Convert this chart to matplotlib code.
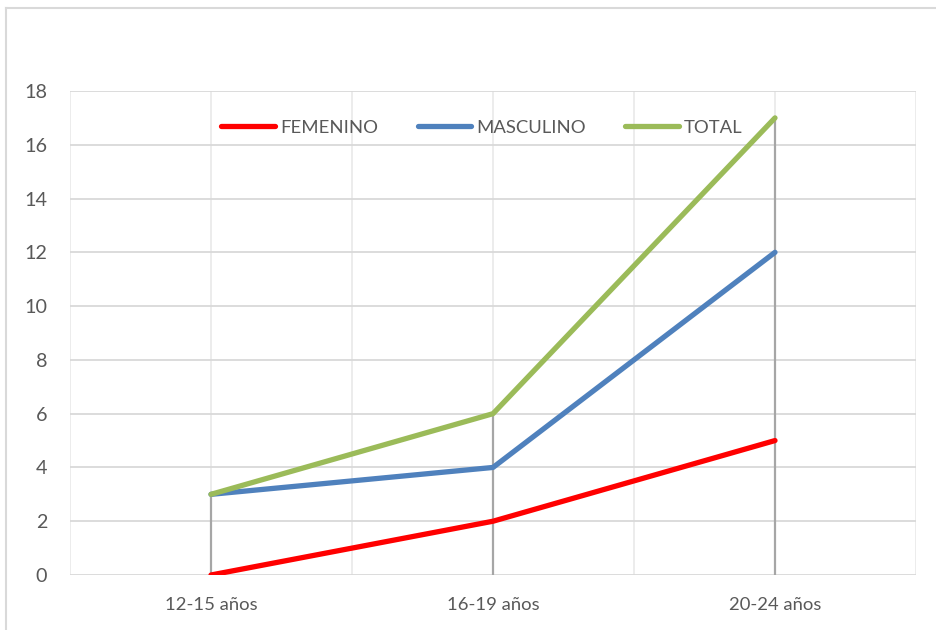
import matplotlib
matplotlib.use("Agg")
import matplotlib.pyplot as plt
from matplotlib.lines import Line2D

categories = ["12-15 años", "16-19 años", "20-24 años"]
femenino = [0, 2, 5]
masculino = [3, 4, 12]
total = [3, 6, 17]
yticks = [0, 2, 4, 6, 8, 10, 12, 14, 16, 18]

plt.rcParams['font.family'] = ['Lato', 'DejaVu Sans']

fig = plt.figure(figsize=(9.36, 6.3), dpi=100)
ax = fig.add_axes([70/936, 1 - 575/630, (916-70)/936, (575-91)/630])

x = [i + 0.5 for i in range(len(categories))]

# gridlines
for yv in yticks:
    ax.axhline(yv, color='#D9D9D9', lw=1.3, zorder=1)
for xv in [0, 0.5, 1, 1.5, 2, 2.5, 3]:
    ax.axvline(xv, color='#EBEBEB', lw=1.3, zorder=0.5)

# drop lines
for xi, a, b, c in zip(x, femenino, masculino, total):
    top = max(a, b, c)
    ax.plot([xi, xi], [0, top], color='#A6A6A6', lw=1.6, zorder=2)

ax.plot(x, femenino, color='#FF0000', lw=3.8, solid_capstyle='round', zorder=3, label='FEMENINO')
ax.plot(x, masculino, color='#4F81BD', lw=3.8, solid_capstyle='round', zorder=3, label='MASCULINO')
ax.plot(x, total, color='#9BBB59', lw=3.8, solid_capstyle='round', zorder=3, label='TOTAL')

ax.set_xlim(0, 3)
ax.set_ylim(0, 18)
ax.set_yticks(yticks)
ax.set_xticks(x)
ax.set_xticklabels(categories)
ax.tick_params(axis='both', length=0, labelsize=13.3, labelcolor='#595959')
ax.tick_params(axis='y', labelsize=14.2, pad=16.5)
ax.tick_params(axis='x', pad=16)
for s in ax.spines.values():
    s.set_visible(False)

leg = ax.legend(loc='upper center', bbox_to_anchor=(0.487, 0.975), ncol=3, frameon=False,
                fontsize=13.3, handlelength=2.9, handletextpad=0.27, columnspacing=2.15)
for t in leg.get_texts():
    t.set_color('#595959')

# chart border
fig.add_artist(Line2D([6/936, 6/936], [0, 1 - 8/630], color='#D9D9D9', lw=1.5, transform=fig.transFigure))
fig.add_artist(Line2D([6/936, 1], [1 - 8/630, 1 - 8/630], color='#D9D9D9', lw=1.5, transform=fig.transFigure))

fig.savefig("out.png", dpi=100)
